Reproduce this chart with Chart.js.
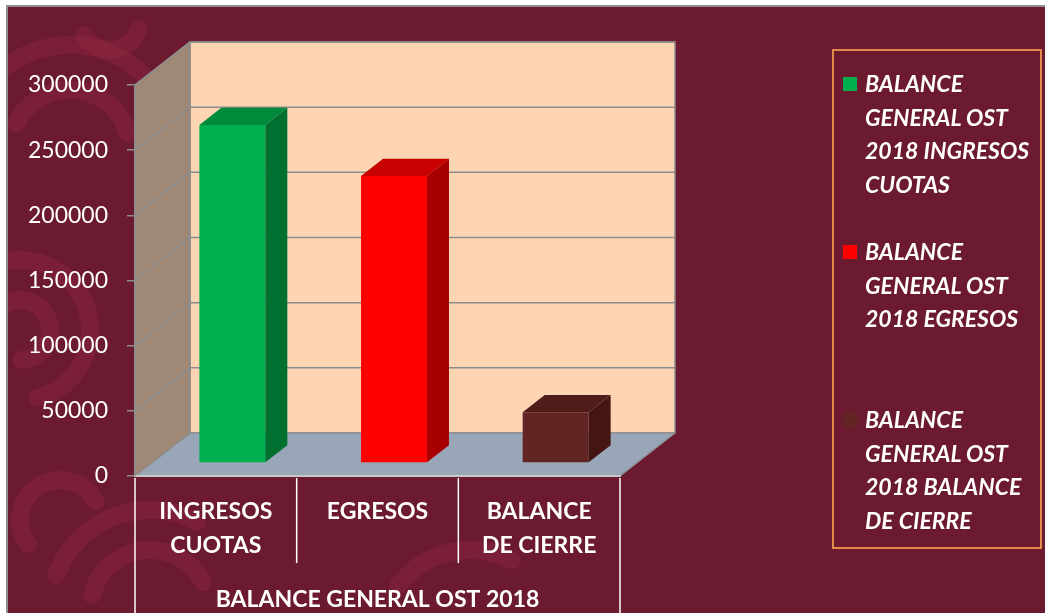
<!DOCTYPE html>
<html>
<head>
<meta charset="utf-8">
<script src="https://cdn.jsdelivr.net/npm/chart.js@4.4.1/dist/chart.umd.min.js"></script>
<style>
  html, body { margin: 0; padding: 0; background: #fff; }
  #wrap { position: relative; width: 1045px; height: 613px; overflow: hidden; }
  #frame { position: absolute; left: 6px; top: 5px; width: 1045px; height: 620px;
           background: #6b1a30; border-left: 2px solid #8e8e8e; border-top: 2px solid #8e8e8e; }
  #chart { position: absolute; left: 0; top: 0; }
  #legend { position: absolute; left: 832px; top: 49px; width: 210px; height: 500px;
            box-sizing: border-box; border: 2px solid #e2894c;
            font: italic bold 23px Lato, "Open Sans", sans-serif; color: #fff; }
  .item { position: absolute; left: 0; width: 100%; }
  .sw { position: absolute; left: 9px; width: 14px; height: 14px; }
  .txt { position: absolute; left: 31px; width: 178px; line-height: 33.5px; }
</style>
</head>
<body>
<div id="wrap">
  <div id="frame"></div>
  <canvas id="chart" width="1045" height="613"></canvas>
  <div id="legend"></div>
</div>
<script>
// data
const categories = [['INGRESOS', 'CUOTAS'], ['EGRESOS'], ['BALANCE', 'DE CIERRE']];
const groupLabel = 'BALANCE GENERAL OST 2018';
const seriesNames = [
  'BALANCE GENERAL OST 2018 INGRESOS CUOTAS',
  'BALANCE GENERAL OST 2018 EGRESOS',
  'BALANCE GENERAL OST 2018 BALANCE DE CIERRE'
];
const values = [259400, 220300, 39100];
const yTicks = [0, 50000, 100000, 150000, 200000, 250000, 300000];

// colours (front, side, top)
const frontColors = ['#00b050', '#ff0000', '#632523'];
const sideColors = ['#007030', '#a80000', '#431614'];
const topColors = ['#008a3c', '#c80000', '#4f1c1a'];

// 3d look
const DX = 55, DY = -43;          // depth of the walls
const barFront = 0.3, barBack = 0.7;

function poly(ctx, pts, fill, stroke, lw) {
  ctx.beginPath();
  ctx.moveTo(pts[0][0], pts[0][1]);
  for (let i = 1; i < pts.length; i++) ctx.lineTo(pts[i][0], pts[i][1]);
  ctx.closePath();
  if (fill) { ctx.fillStyle = fill; ctx.fill(); }
  if (stroke) { ctx.strokeStyle = stroke; ctx.lineWidth = lw || 1; ctx.stroke(); }
}

const box3d = {
  id: 'box3d',
  beforeDraw(chart) {
    const { ctx, chartArea: a, scales: { y } } = chart;

    // background swirls
    ctx.save();
    ctx.beginPath();
    ctx.rect(8, 7, 1045, 613);
    ctx.clip();
    ctx.strokeStyle = 'rgba(160, 45, 75, 0.28)';
    ctx.lineCap = 'round';
    ctx.lineWidth = 18;
    const arcs = [
      [70, 150, 60, 3.6, 6.0], [70, 150, 105, 3.3, 5.6], [20, 330, 70, 4.6, 7.6],
      [20, 330, 30, 4.0, 7.8], [150, 610, 60, 3.4, 5.8], [150, 610, 100, 3.5, 5.2],
      [60, 520, 40, 2.5, 5.8], [110, 20, 30, 0.3, 2.6], [470, 640, 90, 3.8, 5.2]
    ];
    arcs.forEach(([cx, cy, r, s, e]) => {
      ctx.beginPath();
      ctx.arc(cx, cy, r, s, e);
      ctx.stroke();
    });
    ctx.restore();

    const L = a.left, R = a.right;
    const T = y.getPixelForValue(yTicks[yTicks.length - 1]), B = y.getPixelForValue(0);
    ctx.save();
    // side wall
    poly(ctx, [[L, B], [L + DX, B + DY], [L + DX, T + DY], [L, T]], '#a08876');
    // back wall
    poly(ctx, [[L + DX, B + DY], [R + DX, B + DY], [R + DX, T + DY], [L + DX, T + DY]], '#fdd5b3', '#8c8c8c', 1.5);
    // floor
    poly(ctx, [[L, B], [R, B], [R + DX, B + DY], [L + DX, B + DY]], '#98a6b7');
    ctx.strokeStyle = '#8c8c8c';
    ctx.lineWidth = 1.5;
    ctx.beginPath();
    ctx.moveTo(R, B); ctx.lineTo(R + DX, B + DY);
    ctx.moveTo(L, T); ctx.lineTo(L + DX, T + DY);
    ctx.moveTo(L + DX, T + DY); ctx.lineTo(L + DX, B + DY);
    ctx.stroke();
    // gridlines on the walls
    yTicks.forEach(v => {
      const py = y.getPixelForValue(v);
      ctx.beginPath();
      ctx.moveTo(L, py);
      ctx.lineTo(L + DX, py + DY);
      ctx.lineTo(R + DX, py + DY);
      ctx.stroke();
    });
    ctx.restore();
  },
  beforeDatasetsDraw(chart) {
    chart.ctx.save();
    chart.ctx.translate(DX * barFront, DY * barFront);
  },
  afterDatasetsDraw(chart) {
    const ctx = chart.ctx;
    const bx = DX * (barBack - barFront), by = DY * (barBack - barFront);
    chart.data.datasets.forEach((ds, d) => {
      const meta = chart.getDatasetMeta(d);
      meta.data.forEach((bar, i) => {
        if (ds.data[i] == null) return;
        const l = bar.x - bar.width / 2, r = bar.x + bar.width / 2;
        const t = Math.min(bar.y, bar.base), b = Math.max(bar.y, bar.base);
        poly(ctx, [[l, t], [r, t], [r + bx, t + by], [l + bx, t + by]], topColors[d]);
        poly(ctx, [[r, t], [r + bx, t + by], [r + bx, b + by], [r, b]], sideColors[d]);
      });
    });
    ctx.restore();
  },
  afterDraw(chart) {
    const { ctx, chartArea: a, scales: { x } } = chart;
    const n = categories.length;
    ctx.save();
    ctx.strokeStyle = '#ffffff';
    ctx.lineWidth = 1.5;
    for (let i = 0; i <= n; i++) {
      let px;
      if (i === 0) px = a.left;
      else if (i === n) px = a.right;
      else px = (x.getPixelForValue(i - 1) + x.getPixelForValue(i)) / 2;
      const bottom = (i === 0 || i === n) ? chart.height : 563;
      ctx.beginPath();
      ctx.moveTo(px, a.bottom + 2);
      ctx.lineTo(px, bottom);
      ctx.stroke();
    }
    ctx.restore();
  }
};

Chart.defaults.font.family = 'Lato, "Open Sans", sans-serif';

new Chart(document.getElementById('chart'), {
  type: 'bar',
  data: {
    labels: categories,
    datasets: seriesNames.map((name, d) => ({
      label: name,
      data: categories.map((c, i) => (i === d ? values[d] : null)),
      backgroundColor: frontColors[d],
      borderWidth: 0,
      barPercentage: 0.408,
      categoryPercentage: 1
    }))
  },
  options: {
    responsive: false,
    animation: false,
    layout: { padding: { left: 0, top: 85, right: 425, bottom: 0 } },
    plugins: { legend: { display: false }, tooltip: { enabled: false } },
    scales: {
      x: {
        stacked: true,
        afterFit: s => { s.height = 137; },
        grid: { display: false, drawTicks: false },
        border: { display: true, color: '#c8c8c8', width: 2 },
        ticks: {
          color: '#ffffff', padding: 19, autoSkip: false, maxRotation: 0,
          font: { size: 23, weight: 'bold', lineHeight: 1.48 }
        },
        title: {
          display: true, text: groupLabel, color: '#ffffff',
          font: { size: 23, weight: 'bold', lineHeight: 1.2 },
          padding: { top: 0, bottom: 0 }
        }
      },
      y: {
        stacked: true,
        min: 0, max: 300000,
        afterFit: s => { s.width = 135; },
        afterBuildTicks: s => { s.ticks = yTicks.map(v => ({ value: v })); },
        grid: { display: true, drawOnChartArea: false, drawTicks: true, tickLength: 8, color: '#8c8c8c', lineWidth: 1.5 },
        border: { display: true, color: '#8c8c8c', width: 1.5 },
        ticks: { color: '#ffffff', padding: 19, font: { size: 23 }, callback: v => String(v) }
      }
    }
  },
  plugins: [box3d]
});

// legend box
const legend = document.getElementById('legend');
seriesNames.forEach((name, d) => {
  const item = document.createElement('div');
  item.className = 'item';
  item.style.top = (16 + 168 * d) + 'px';
  item.innerHTML = '<div class="sw" style="top:10px;background:' + frontColors[d] + '"></div>' +
    '<div class="txt">' + name + '</div>';
  legend.appendChild(item);
});
</script>
</body>
</html>
